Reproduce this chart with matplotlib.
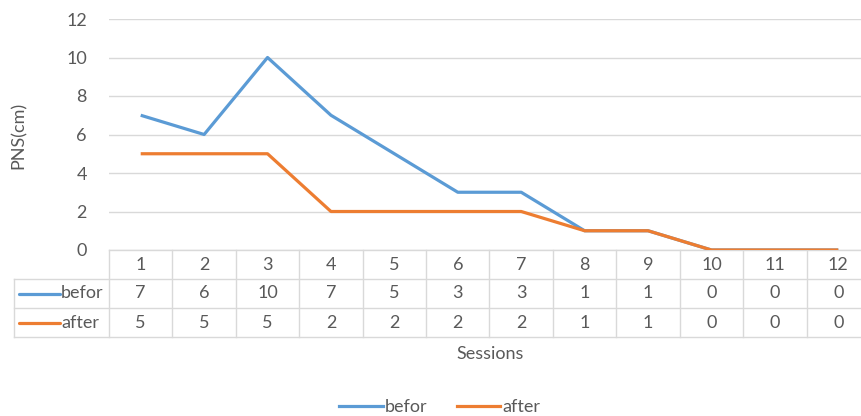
import numpy as np
import matplotlib.pyplot as plt
from matplotlib.lines import Line2D

plt.rcParams['font.family'] = ['Lato', 'DejaVu Sans']

sessions = [1, 2, 3, 4, 5, 6, 7, 8, 9, 10, 11, 12]
befor = [7, 6, 10, 7, 5, 3, 3, 1, 1, 0, 0, 0]
after = [5, 5, 5, 2, 2, 2, 2, 1, 1, 0, 0, 0]
series = [('befor', befor, '#5B9BD5'), ('after', after, '#ED7D31')]

grey = '#595959'
grid = '#d9d9d9'
fs = 13

W, H = 862, 416
fig = plt.figure(figsize=(W / 100, H / 100), dpi=100)
# plot area in pixels: left 109, right 870 (runs past the edge), top 19, bottom 250
ax = fig.add_axes([109 / W, (H - 250) / H, (870 - 109) / W, (250 - 19) / H])

x = np.array(sessions)
for name, vals, col in series:
    ax.plot(x, vals, color=col, lw=2.3, solid_capstyle='butt', zorder=3)

ax.set_xlim(0.5, 12.5)
ax.set_ylim(0, 12)
ax.set_yticks(range(0, 13, 2))
ax.yaxis.grid(True, color=grid, lw=1)
ax.set_axisbelow(True)
ax.tick_params(axis='y', length=0, colors=grey, labelsize=fs, pad=16)
ax.tick_params(axis='x', length=0, labelbottom=False)
for s in ax.spines.values():
    s.set_visible(False)
ax.set_ylabel('PNS(cm)', color=grey, fontsize=fs)
ax.yaxis.set_label_coords((27 - 109) / (870 - 109), (250 - 135) / (250 - 19))

# data table under the plot
ph = 250 - 19
rh = 29 / ph
n = len(sessions)
left = (14 - 109) / (870 - 109)
kw = dict(transform=ax.transAxes, color=grid, lw=1, clip_on=False)

# horizontal lines
ax.add_line(Line2D([0, 1], [0, 0], **kw))
for k in (1, 2, 3):
    ax.add_line(Line2D([left, 1], [-k * rh, -k * rh], **kw))
# vertical lines
for i in range(n + 1):
    ax.add_line(Line2D([i / n, i / n], [0, -3 * rh], **kw))
ax.add_line(Line2D([left, left], [-rh, -3 * rh], **kw))

tk = dict(transform=ax.transAxes, color=grey, fontsize=fs,
          ha='center', va='center', clip_on=False)
for i, s in enumerate(sessions):
    cx = (i + 0.5) / n
    ax.text(cx, -0.5 * rh, str(s), **tk)
    ax.text(cx, -1.5 * rh, str(befor[i]), **tk)
    ax.text(cx, -2.5 * rh, str(after[i]), **tk)

px = 1 / (870 - 109)
for r, (name, vals, col) in enumerate(series):
    yy = -(1.5 + r) * rh
    ax.add_line(Line2D([(19 - 109) * px, (60 - 109) * px], [yy, yy],
                       transform=ax.transAxes, color=col, lw=2.3,
                       clip_on=False, solid_capstyle='round'))
    ax.text((61 - 109) * px, yy, name, transform=ax.transAxes, color=grey,
            fontsize=fs, ha='left', va='center', clip_on=False)

fig.text(490 / W, 1 - 354 / H, 'Sessions', color=grey, fontsize=fs,
         ha='center', va='center')

# legend at the bottom
handles = [Line2D([], [], color=c, lw=2.3) for _, _, c in series]
fig.legend(handles, [s[0] for s in series], loc='center',
           bbox_to_anchor=(440 / W, 1 - 407 / H), ncol=2, frameon=False,
           fontsize=fs, labelcolor=grey, handlelength=2.4,
           handletextpad=0.15, columnspacing=1.6)

fig.savefig('out.png', dpi=100)
